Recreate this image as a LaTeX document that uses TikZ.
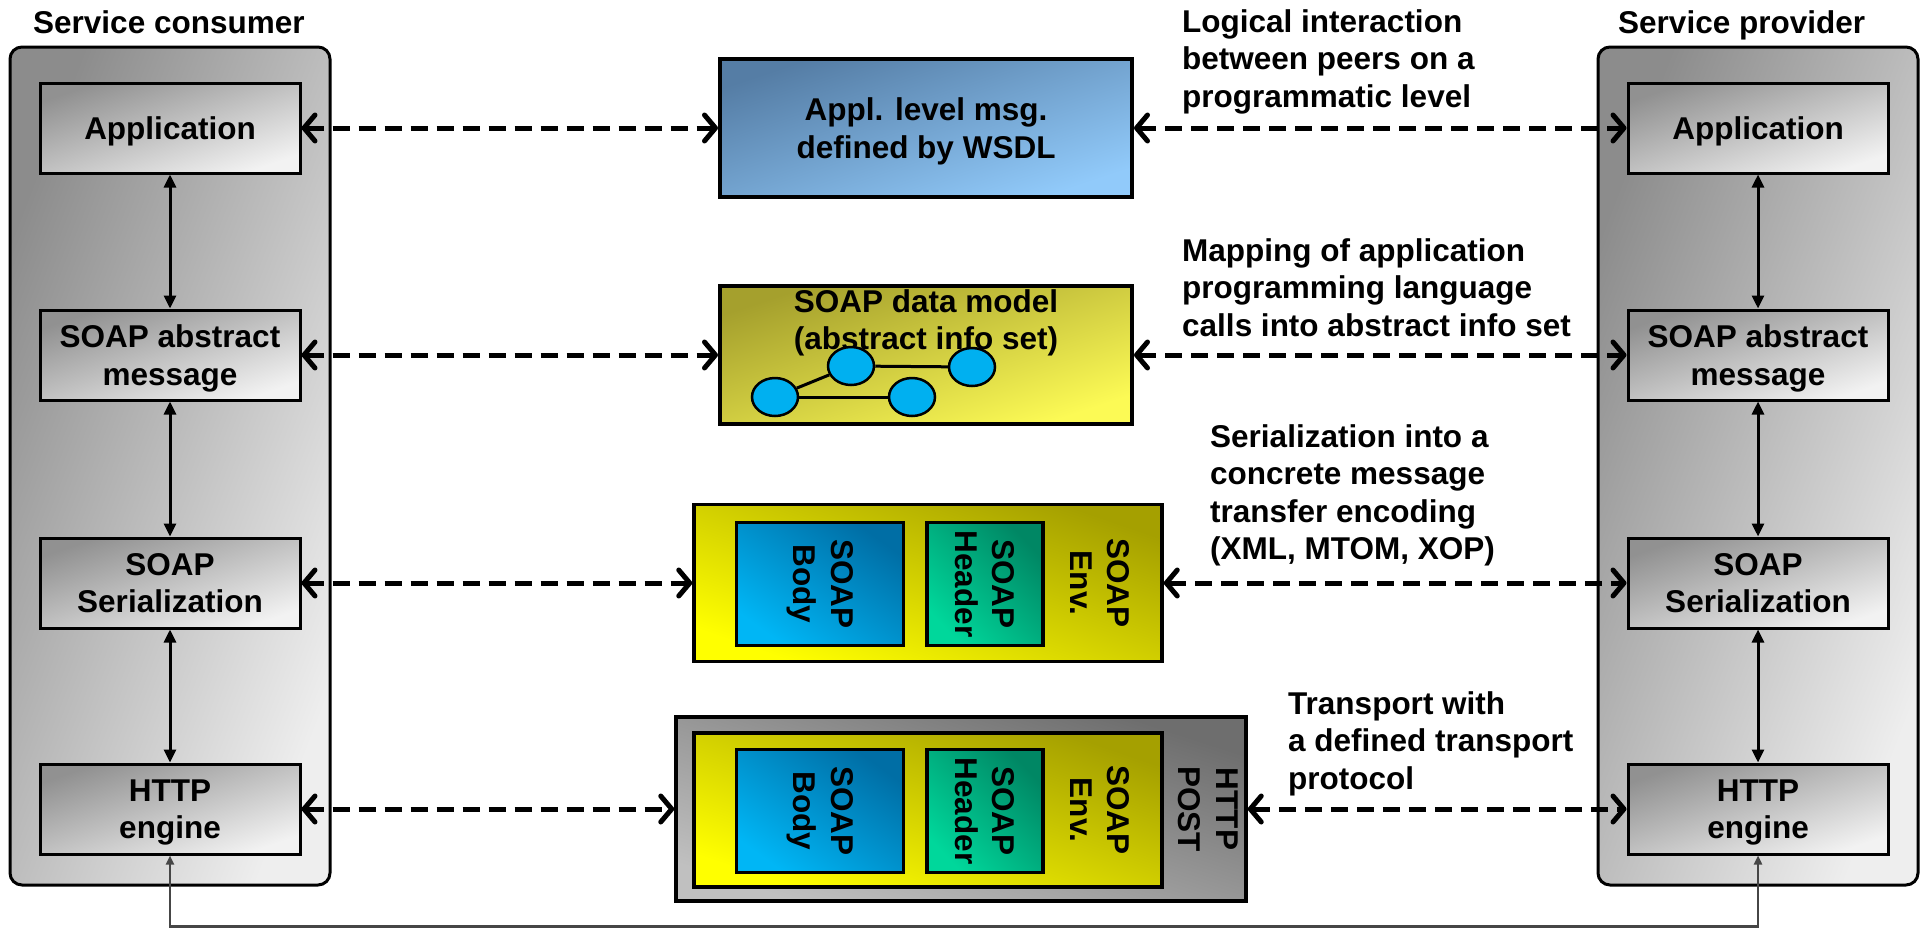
\documentclass[tikz,border=0pt]{standalone}
\usepackage{fontspec}
\setmainfont{Liberation Sans}
\usetikzlibrary{arrows.meta,shapes.geometric}

\definecolor{stacktop}{RGB}{140,140,140}
\definecolor{stackbot}{RGB}{238,238,238}
\definecolor{layertop}{RGB}{145,145,145}
\definecolor{layerbot}{RGB}{242,242,242}
\definecolor{wsdltop}{RGB}{85,125,165}
\definecolor{wsdlbot}{RGB}{145,202,250}
\definecolor{modeltop}{RGB}{165,160,45}
\definecolor{modelbot}{RGB}{252,250,85}
\definecolor{envtop}{RGB}{165,160,0}
\definecolor{envbot}{RGB}{255,255,0}
\definecolor{bodytop}{RGB}{0,110,165}
\definecolor{bodybot}{RGB}{0,182,245}
\definecolor{headtop}{RGB}{0,135,100}
\definecolor{headbot}{RGB}{0,215,155}
\definecolor{posttop}{RGB}{110,110,110}
\definecolor{postbot}{RGB}{192,192,192}
\definecolor{infoblue}{RGB}{0,176,240}
\definecolor{wiregray}{RGB}{70,70,70}

% shading angles follow the box diagonals
\tikzset{
  stack/.style={draw, line width=3pt, rounded corners=12pt,
    top color=stacktop, bottom color=stackbot, shading angle=69,
    minimum width=320pt, minimum height=838pt},
  layer/.style={draw, line width=3pt, minimum width=260pt, minimum height=90pt,
    align=center, text depth=0pt,
    top color=layertop, bottom color=layerbot, shading angle=19},
  msgbox/.style={draw, line width=4pt, minimum width=412pt, minimum height=138pt,
    align=center, text depth=0pt},
  envbox/.style={draw, line width=3.5pt, minimum width=468pt,
    top color=envtop, bottom color=envbot, shading angle=-19},
  bodybox/.style={draw, line width=3.5pt, minimum width=167pt, minimum height=123pt,
    top color=bodytop, bottom color=bodybot, shading angle=-36},
  headbox/.style={draw, line width=3.5pt, minimum width=116pt, minimum height=123pt,
    top color=headtop, bottom color=headbot, shading angle=-47},
  postbox/.style={draw, line width=3.5pt, minimum width=570pt, minimum height=184pt,
    top color=posttop, bottom color=postbot, shading angle=-18},
  vtext/.style={rotate=-90, align=center, inner sep=0pt},
  note/.style={anchor=north west, align=left, inner sep=0pt},
  info/.style={ellipse, draw, line width=2.5pt, fill=infoblue,
    minimum width=46pt, minimum height=38pt, inner sep=0pt},
  peer/.style={line width=5pt, dash pattern=on 17pt off 9pt,
    >={Straight Barb[round,length=11pt,width=26pt]}, <->},
  call/.style={line width=3pt, >={Triangle[length=13pt,width=12pt]}, <->},
  wire/.style={line width=2.2pt, draw=wiregray,
    >={Triangle[length=9pt,width=8pt]}, <->},
}

\begin{document}
\begin{tikzpicture}[x=1pt,y=-1pt,
    every node/.style={font=\bfseries\fontsize{31.5}{37.5}\selectfont}]
  \useasboundingbox (0,0) rectangle (1920,929);

  % the two peers
  \node[stack] (consumer) at (170,466) {};
  \node[stack] (provider) at (1758,466) {};
  \node[anchor=base west, inner sep=0pt] (consumerlbl) at (33,33) {Service consumer};
  \node[anchor=base west, inner sep=0pt] (providerlbl) at (1618,33) {Service provider};

  \node[layer] (cApp)  at (170,128) {Application};
  \node[layer] (cAbs)  at (170,355) {SOAP abstract\\message};
  \node[layer] (cSer)  at (170,583) {SOAP\\Serialization};
  \node[layer] (cHttp) at (170,809) {HTTP\\engine};

  \node[layer] (pApp)  at (1758,128) {Application};
  \node[layer] (pAbs)  at (1758,355) {SOAP abstract\\message};
  \node[layer] (pSer)  at (1758,583) {SOAP\\Serialization};
  \node[layer] (pHttp) at (1758,809) {HTTP\\engine};

  \draw[call] (cApp) -- (cAbs);
  \draw[call] (cAbs) -- (cSer);
  \draw[call] (cSer) -- (cHttp);
  \draw[call] (pApp) -- (pAbs);
  \draw[call] (pAbs) -- (pSer);
  \draw[call] (pSer) -- (pHttp);

  % what travels between them
  \node[msgbox, top color=wsdltop, bottom color=wsdlbot, shading angle=18.5]
    (wsdl) at (926,128) {Appl. level msg.\\defined by WSDL};

  \node[msgbox, top color=modeltop, bottom color=modelbot, shading angle=18.5]
    (model) at (926,355) {};
  \node[anchor=north, align=center, inner sep=0pt] (modeltxt) at (926,289)
    {SOAP data model\\(abstract info set)};
  \node[info] (info1) at (775,397) {};
  \node[info] (info2) at (851,366) {};
  \node[info] (info3) at (972,367) {};
  \node[info] (info4) at (912,397) {};
  \draw[line width=3pt] (info1) -- (info2);
  \draw[line width=3pt] (info2) -- (info3);
  \draw[line width=3pt] (info1) -- (info4);

  \node[envbox, minimum height=157pt] (env3) at (928,583) {};
  \node[bodybox] (body3) at (820,584) {};
  \node[headbox] (head3) at (985,584) {};
  \node[vtext] (body3txt) at (body3) {SOAP\\Body};
  \node[vtext] (head3txt) at (head3) {SOAP\\Header};
  \node[vtext] (env3txt) at (1100,583) {SOAP\\Env.};

  \node[postbox] (post) at (961,809) {};
  \node[envbox, minimum height=154pt] (env4) at (928,810) {};
  \node[bodybox] (body4) at (820,811) {};
  \node[headbox] (head4) at (985,811) {};
  \node[vtext] (body4txt) at (body4) {SOAP\\Body};
  \node[vtext] (head4txt) at (head4) {SOAP\\Header};
  \node[vtext] (env4txt) at (1100,810) {SOAP\\Env.};
  \node[vtext] (posttxt) at (1208,809) {HTTP\\POST};

  \draw[peer] (cApp) -- (wsdl);
  \draw[peer] (wsdl) -- (pApp);
  \draw[peer] (cAbs) -- (model);
  \draw[peer] (model) -- (pAbs);
  \draw[peer] (cSer) -- (env3);
  \draw[peer] (env3) -- (pSer);
  \draw[peer] (cHttp) -- (post);
  \draw[peer] (post) -- (pHttp);

  % comments on each level
  \node[note] (logical) at (1182,9)
    {Logical interaction\\between peers on a\\programmatic level};
  \node[note] (mapping) at (1182,238)
    {Mapping of application\\programming language\\calls into abstract info set};
  \node[note] (serial) at (1210,424)
    {Serialization into a\\concrete message\\transfer encoding\\(XML, MTOM, XOP)};
  \node[note] (transport) at (1288,691)
    {Transport with\\a defined transport\\protocol};

  % the wire
  \draw[wire] (cHttp.south) -- ++(0,71) -| (pHttp.south);
\end{tikzpicture}
\end{document}
